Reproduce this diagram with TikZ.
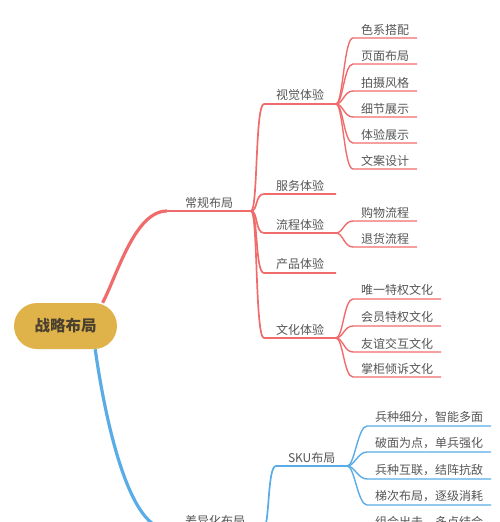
\documentclass[tikz,border=0pt]{standalone}
\usepackage{fontspec}
\setmainfont{Noto Sans CJK SC}
\usetikzlibrary{calc,backgrounds}
\definecolor{rootgold}{HTML}{E0B24A}
\definecolor{roottext}{HTML}{4A4030}
\definecolor{redline}{HTML}{F06C6C}
\definecolor{blueline}{HTML}{5AACE6}
\definecolor{txtgray}{HTML}{555555}

\begin{document}
\begin{tikzpicture}[x=1pt,y=-1pt,line cap=round,line join=round,
  root/.style={fill=rootgold,text=roottext,rounded corners=23pt,minimum width=103pt,minimum height=46pt,font=\bfseries\fontsize{15.5}{18}\selectfont},
  topic/.style={font=\fontsize{12}{14}\selectfont,text=txtgray,inner ysep=3pt,outer sep=0pt,anchor=south west},
  lvlone/.style={topic,inner xsep=18pt},
  lvltwo/.style={topic,inner xsep=12pt},
  leaf/.style={topic,inner xsep=8pt},
  branch/.style={to path={.. controls ($(\tikztostart)+(7,0)$) and ($(\tikztotarget)+(-9,0)$) .. (\tikztotarget)}}]
  \useasboundingbox (0,0) rectangle (500,522);
  \clip (0,0) rectangle (500,522);

  \node[root] (root) at (65.5,326) {战略布局};

  % regular layout
  \node[lvlone] (regular) at (167,211) {常规布局};
  \node[lvltwo] (visual) at (264,104) {视觉体验};
  \node[lvltwo] (service) at (264,194) {服务体验};
  \node[lvltwo] (process) at (264,233) {流程体验};
  \node[lvltwo] (product) at (264,273) {产品体验};
  \node[lvltwo] (culture) at (264,338) {文化体验};

  \node[leaf] (vis1) at (353,38) {色系搭配};
  \node[leaf] (vis2) at (353,64) {页面布局};
  \node[leaf] (vis3) at (353,91) {拍摄风格};
  \node[leaf] (vis4) at (353,117) {细节展示};
  \node[leaf] (vis5) at (353,143) {体验展示};
  \node[leaf] (vis6) at (353,169) {文案设计};

  \node[leaf] (proc1) at (353,221) {购物流程};
  \node[leaf] (proc2) at (353,247) {退货流程};

  \node[leaf] (cult1) at (353,299) {唯一特权文化};
  \node[leaf] (cult2) at (353,326) {会员特权文化};
  \node[leaf] (cult3) at (353,352) {友谊交互文化};
  \node[leaf] (cult4) at (353,377) {掌柜倾诉文化};

  % differentiated layout
  \node[lvlone] (diff) at (167,529) {差异化布局};
  \node[lvltwo] (sku) at (276,466) {SKU布局};
  \node[leaf] (sku1) at (367,426) {兵种细分，智能多面};
  \node[leaf] (sku2) at (367,452) {破面为点，单兵强化};
  \node[leaf] (sku3) at (367,479) {兵种互联，结阵抗敌};
  \node[leaf] (sku4) at (367,505) {梯次布局，逐级消耗};
  \node[leaf] (comb) at (367,531) {组合出击，多点结合};

  \begin{scope}[on background layer]
    \draw[redline,line width=3.2] (root.32) .. controls ($(root.32)+(15,-29)$) and ($(regular.south west)+(-32,0)$) .. (regular.south west);
    \draw[redline,line width=2] (regular.south west) -- (regular.south east);
    \draw[redline,line width=1.7] (regular.south east) to[branch] (visual.south west) -- (visual.south east);
    \draw[redline,line width=1.7] (regular.south east) to[branch] (service.south west) -- (service.south east);
    \draw[redline,line width=1.7] (regular.south east) to[branch] (process.south west) -- (process.south east);
    \draw[redline,line width=1.7] (regular.south east) to[branch] (product.south west) -- (product.south east);
    \draw[redline,line width=1.7] (regular.south east) to[branch] (culture.south west) -- (culture.south east);

    \draw[redline,line width=1.4] (visual.south east) to[branch] (vis1.south west) -- (vis1.south east);
    \draw[redline,line width=1.4] (visual.south east) to[branch] (vis2.south west) -- (vis2.south east);
    \draw[redline,line width=1.4] (visual.south east) to[branch] (vis3.south west) -- (vis3.south east);
    \draw[redline,line width=1.4] (visual.south east) to[branch] (vis4.south west) -- (vis4.south east);
    \draw[redline,line width=1.4] (visual.south east) to[branch] (vis5.south west) -- (vis5.south east);
    \draw[redline,line width=1.4] (visual.south east) to[branch] (vis6.south west) -- (vis6.south east);

    \draw[redline,line width=1.4] (process.south east) to[branch] (proc1.south west) -- (proc1.south east);
    \draw[redline,line width=1.4] (process.south east) to[branch] (proc2.south west) -- (proc2.south east);

    \draw[redline,line width=1.4] (culture.south east) to[branch] (cult1.south west) -- (cult1.south east);
    \draw[redline,line width=1.4] (culture.south east) to[branch] (cult2.south west) -- (cult2.south east);
    \draw[redline,line width=1.4] (culture.south east) to[branch] (cult3.south west) -- (cult3.south east);
    \draw[redline,line width=1.4] (culture.south east) to[branch] (cult4.south west) -- (cult4.south east);

    \draw[blueline,line width=3.2] (root.-38) .. controls ($(root.-38)+(7,50)$) and ($(diff.south west)+(-42,0)$) .. (diff.south west);
    \draw[blueline,line width=2] (diff.south west) -- (diff.south east);
    \draw[blueline,line width=1.7] (diff.south east) to[branch] (sku.south west) -- (sku.south east);
    \draw[blueline,line width=1.4] (sku.south east) to[branch] (sku1.south west) -- (sku1.south east);
    \draw[blueline,line width=1.4] (sku.south east) to[branch] (sku2.south west) -- (sku2.south east);
    \draw[blueline,line width=1.4] (sku.south east) to[branch] (sku3.south west) -- (sku3.south east);
    \draw[blueline,line width=1.4] (sku.south east) to[branch] (sku4.south west) -- (sku4.south east);
    \draw[blueline,line width=1.4] (comb.south west) -- (comb.south east);
  \end{scope}
\end{tikzpicture}
\end{document}
